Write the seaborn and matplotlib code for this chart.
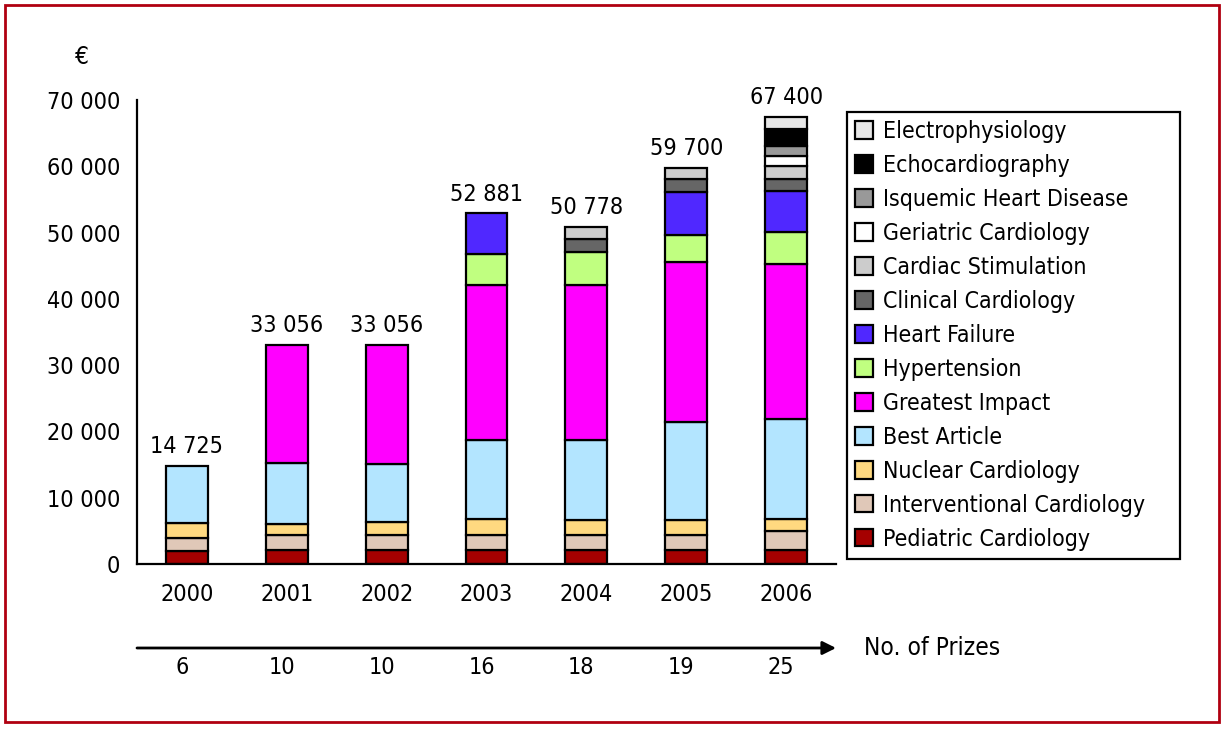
import matplotlib
matplotlib.use("Agg")
import matplotlib.pyplot as plt
import matplotlib.patches as patches
from matplotlib import font_manager
import numpy as np
import pandas as pd
import seaborn as sns

# data (euros per category, per year)
years = ['2000', '2001', '2002', '2003', '2004', '2005', '2006']
prizes = [6, 10, 10, 16, 18, 19, 25]
totals = [14725, 33056, 33056, 52881, 50778, 59700, 67400]

pediatric = [2000, 2100, 2100, 2100, 2100, 2100, 2100]
interventional = [1900, 2300, 2300, 2300, 2300, 2300, 2950]
nuclear = [2300, 1650, 1950, 2450, 2250, 2250, 1700]
best_article = [8525, 9250, 8750, 11800, 12000, 14750, 15150]
greatest_impact = [0, 17756, 17956, 23450, 23450, 24200, 23300]
hypertension = [0, 0, 0, 4700, 5000, 4000, 4900]
heart_failure = [0, 0, 0, 6081, 0, 6500, 6100]
clinical = [0, 0, 0, 0, 1900, 2000, 1900]
stimulation = [0, 0, 0, 0, 1778, 1600, 1900]
geriatric = [0, 0, 0, 0, 0, 0, 1600]
isquemic = [0, 0, 0, 0, 0, 0, 1500]
echo = [0, 0, 0, 0, 0, 0, 2600]
electro = [0, 0, 0, 0, 0, 0, 1700]

layers = [
    ('Pediatric Cardiology', pediatric, '#A50000'),
    ('Interventional Cardiology', interventional, '#E0C8B8'),
    ('Nuclear Cardiology', nuclear, '#FFD980'),
    ('Best Article', best_article, '#B3E5FF'),
    ('Greatest Impact', greatest_impact, '#FF00FF'),
    ('Hypertension', hypertension, '#C0FF80'),
    ('Heart Failure', heart_failure, '#5028FF'),
    ('Clinical Cardiology', clinical, '#666666'),
    ('Cardiac Stimulation', stimulation, '#CCCCCC'),
    ('Geriatric Cardiology', geriatric, '#FFFFFF'),
    ('Isquemic Heart Disease', isquemic, '#999999'),
    ('Echocardiography', echo, '#000000'),
    ('Electrophysiology', electro, '#E6E6E6'),
]

sns.set_style('white')

# the reference uses a condensed face; pick one if the machine has it
fonts = font_manager.fontManager.ttflist
names = {f.name for f in fonts}
stretch = 'normal'
if 'Liberation Sans Narrow' in names:
    family = ['Liberation Sans Narrow', 'DejaVu Sans']
    scale = 1.0
elif any(f.name == 'DejaVu Sans' and f.stretch == 'condensed' for f in fonts):
    family = ['DejaVu Sans']
    stretch = 'condensed'
    scale = 0.88
else:
    family = ['Liberation Sans', 'DejaVu Sans']
    scale = 0.86
plt.rcParams['font.family'] = family
plt.rcParams['font.stretch'] = stretch
plt.rcParams['text.color'] = 'black'
plt.rcParams['xtick.color'] = 'black'
plt.rcParams['ytick.color'] = 'black'

fig = plt.figure(figsize=(12.24, 7.29), dpi=100)
ax = fig.add_axes([137 / 1224, 1 - 564 / 729, 699 / 1224, 464 / 729])

bottom = np.zeros(len(years))
for name, vals, col in layers:
    df = pd.DataFrame({'year': years, 'value': vals, 'base': bottom})
    df = df[df['value'] > 0]
    sns.barplot(data=df, x='year', y='value', order=years, color=col,
                bottom=df['base'].values, width=0.42, edgecolor='black',
                linewidth=1.6, saturation=1, label=name, ax=ax, errorbar=None)
    bottom = bottom + np.array(vals)

for i, t in enumerate(totals):
    ax.text(i, t + 1200, f"{t:,}".replace(',', ' '), ha='center', va='bottom',
            fontsize=19 * scale)

ax.set_xlim(-0.5, 6.5)
ax.set_ylim(0, 70000)
ax.set_yticks(range(0, 70001, 10000))
ax.set_yticklabels([f"{v:,}".replace(',', ' ') for v in range(0, 70001, 10000)],
                   fontsize=19 * scale)
ax.tick_params(axis='x', labelsize=19 * scale, length=0, pad=14)
ax.tick_params(axis='y', length=0, pad=12)
ax.set_xlabel('')
ax.set_ylabel('')
for s in ['top', 'right']:
    ax.spines[s].set_visible(False)
for s in ['left', 'bottom']:
    ax.spines[s].set_color('black')
    ax.spines[s].set_linewidth(1.6)

# prizes arrow row
arrow_y = (564 - 648) / 464
ax.annotate('', xy=(1.0, arrow_y), xytext=(0.0, arrow_y), xycoords='axes fraction',
            arrowprops=dict(arrowstyle='-|>', color='black', lw=2, mutation_scale=20,
                            shrinkA=0, shrinkB=0), annotation_clip=False)
ax.text((864 - 137) / 699, arrow_y, 'No. of Prizes', transform=ax.transAxes,
        ha='left', va='center', fontsize=20 * scale, clip_on=False)
for i, p in enumerate(prizes):
    ax.text(i - 0.05, (564 - 668) / 464, str(p), transform=ax.get_xaxis_transform(),
            ha='center', va='center', fontsize=19 * scale, clip_on=False)

fig.text(82 / 1224, 1 - 57 / 729, '€', ha='center', va='center', fontsize=20 * scale)

handles, labels = ax.get_legend_handles_labels()
leg = ax.legend(handles[::-1], labels[::-1], loc='upper left', mode='expand',
                bbox_to_anchor=(847 / 1224, 1 - 558 / 729, 333 / 1224, 446 / 729),
                bbox_transform=fig.transFigure,
                fontsize=18.8 * scale, frameon=True, fancybox=False, framealpha=1,
                borderaxespad=0, handlelength=0.8, handleheight=0.8, handletextpad=0.4,
                labelspacing=0.42 / scale, borderpad=0.35)
leg.get_frame().set_edgecolor('black')
leg.get_frame().set_linewidth(1.6)

fig.add_artist(patches.Rectangle((5 / 1224, 7 / 729), 1214 / 1224, 717 / 729,
                                 transform=fig.transFigure, fill=False,
                                 edgecolor='#B00010', linewidth=2))

fig.savefig('out.png', dpi=100)
